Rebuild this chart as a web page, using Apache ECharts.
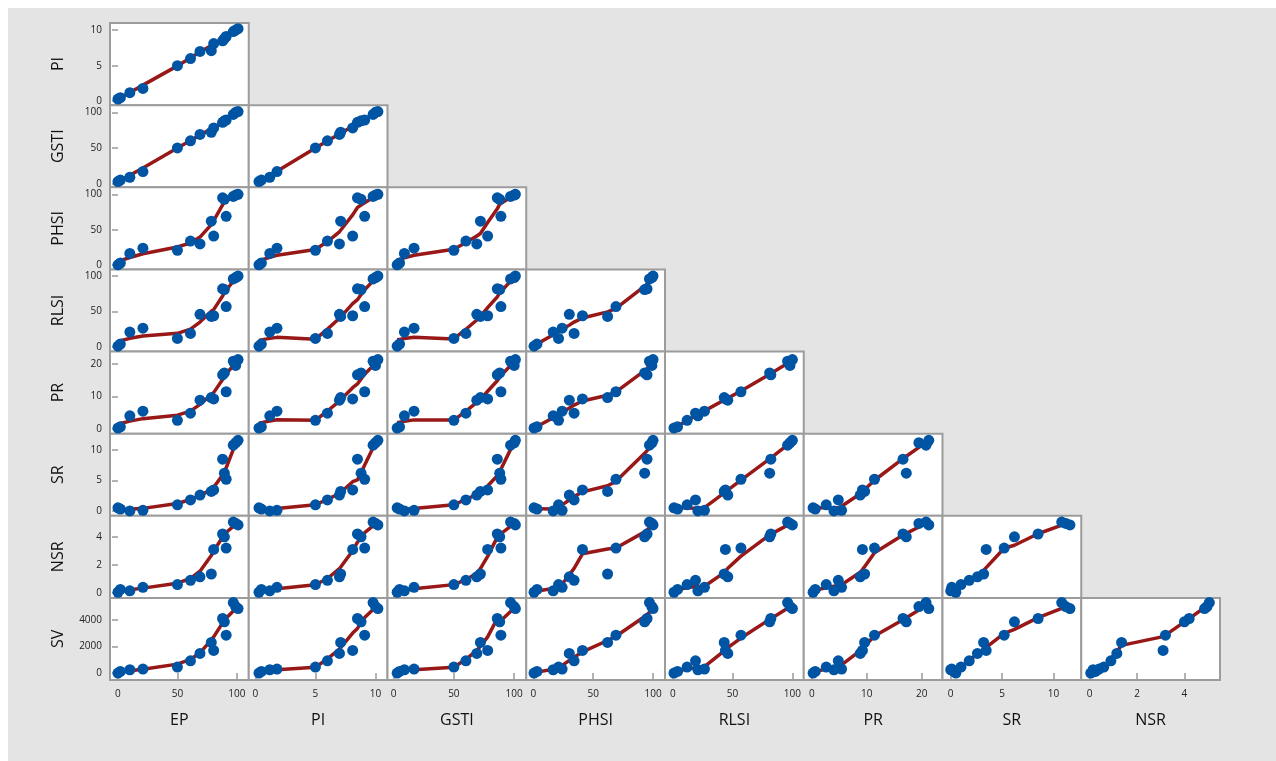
<!DOCTYPE html>
<html>
<head>
<meta charset="utf-8">
<script src="https://cdn.jsdelivr.net/npm/echarts@6/dist/echarts.min.js"></script>
<style>
html,body{margin:0;padding:0;background:#ffffff;}
#chart{width:1276px;height:761px;}
</style>
</head>
<body>
<div id="chart"></div>
<script>
// ---- data (15 observations) ----
const VARS = ['EP','PI','GSTI','PHSI','RLSI','PR','SR','NSR','SV'];
const EP   = [0, 2, 10, 21, 50, 61, 69, 78.5, 80.5, 88, 89.5, 91, 97, 99, 101];
const PI   = [0.3, 0.5, 1.2, 1.8, 5.0, 6.0, 7.0, 7.1, 8.1, 8.5, 8.8, 9.1, 9.8, 10.0, 10.2];
const GSTI = [3, 5, 9, 17, 50, 60, 69, 72, 78, 86, 88, 89, 97, 100, 101];
const PHSI = [0.5, 3, 16.5, 24, 21, 34, 30, 62, 41, 95, 93, 69, 97, 99, 100];
const RLSI = [1, 4, 21, 26.5, 12, 19, 46, 43, 44, 82, 81, 57, 96, 98, 100];
const PR   = [0.2, 0.6, 4.0, 5.4, 2.6, 4.8, 8.8, 9.6, 9.2, 16.6, 17.2, 11.4, 20.8, 19.5, 21.3];
const SR   = [0.5, 0.3, 0, 0.1, 1.0, 1.8, 2.6, 3.2, 3.45, 8.5, 6.2, 5.2, 10.8, 11.2, 11.6];
const NSR  = [0.05, 0.25, 0.15, 0.4, 0.6, 0.9, 1.15, 1.35, 3.1, 4.2, 4.0, 3.2, 5.05, 4.95, 4.85];
const SV   = [0, 120, 250, 300, 450, 920, 1480, 2300, 1700, 4100, 3850, 2850, 5300, 5000, 4850];
const TICKS = {
  EP: [0, 50, 100], PI: [0, 5, 10], GSTI: [0, 50, 100], PHSI: [0, 50, 100],
  RLSI: [0, 50, 100], PR: [0, 10, 20], SR: [0, 5, 10], NSR: [0, 2, 4], SV: [0, 2000, 4000]
};
const DATA = {EP, PI, GSTI, PHSI, RLSI, PR, SR, NSR, SV};

// axis display ranges
const RANGE = {
  EP: [-6.7, 110], PI: [-0.55, 11.0], GSTI: [-5, 110], PHSI: [-6, 110],
  RLSI: [-6.5, 109.5], PR: [-1.5, 23.8], SR: [-0.8, 12.7], NSR: [-0.35, 5.5], SV: [-520, 5650]
};

// ---- LOWESS smoother (Cleveland, as in R's clowess) ----
function lowest(x, y, n, xs, nleft, nright, w, userw, rw) {
  const range = x[n - 1] - x[0];
  const h = Math.max(xs - x[nleft], x[nright] - xs);
  const h9 = 0.999 * h, h1 = 0.001 * h;
  let a = 0, j = nleft;
  while (j < n) {
    w[j] = 0;
    const r = Math.abs(x[j] - xs);
    if (r <= h9) {
      if (r <= h1) w[j] = 1; else w[j] = Math.pow(1 - Math.pow(r / h, 3), 3);
      if (userw) w[j] *= rw[j];
      a += w[j];
    } else if (x[j] > xs) break;
    j++;
  }
  const nrt = j - 1;
  if (a <= 0) return null;
  for (j = nleft; j <= nrt; j++) w[j] /= a;
  if (h > 0) {
    a = 0;
    for (j = nleft; j <= nrt; j++) a += w[j] * x[j];
    let b = xs - a, c = 0;
    for (j = nleft; j <= nrt; j++) c += w[j] * (x[j] - a) * (x[j] - a);
    if (Math.sqrt(c) > 0.001 * range) {
      b /= c;
      for (j = nleft; j <= nrt; j++) w[j] *= (b * (x[j] - a) + 1);
    }
  }
  let ys = 0;
  for (j = nleft; j <= nrt; j++) ys += w[j] * y[j];
  return ys;
}
function lowess(xIn, yIn, f, nsteps) {
  const idx = xIn.map((v, i) => i).sort((a, b) => xIn[a] - xIn[b]);
  const x = idx.map(i => xIn[i]), y = idx.map(i => yIn[i]);
  const n = x.length;
  const ns = Math.max(Math.min(Math.floor(f * n + 1e-7), n), 2);
  const ys = new Array(n).fill(0), rw = new Array(n).fill(1), w = new Array(n).fill(0);
  for (let iter = 1; iter <= nsteps + 1; iter++) {
    let nleft = 0, nright = ns - 1;
    for (let i = 0; i < n; i++) {
      while (nright < n - 1) {
        const d1 = x[i] - x[nleft], d2 = x[nright + 1] - x[i];
        if (d1 <= d2) break;
        nleft++; nright++;
      }
      const v = lowest(x, y, n, x[i], nleft, nright, w, iter > 1, rw);
      ys[i] = (v === null) ? y[i] : v;
    }
    if (iter > nsteps) break;
    const res = y.map((v, i) => v - ys[i]);
    const ar = res.map(Math.abs).sort((a, b) => a - b);
    const m = n % 2 ? ar[(n - 1) / 2] : (ar[n / 2 - 1] + ar[n / 2]) / 2;
    const cmad = 6 * m;
    if (cmad < 1e-7) break;
    const c9 = 0.999 * cmad, c1 = 0.001 * cmad;
    for (let i = 0; i < n; i++) {
      const r = Math.abs(res[i]);
      rw[i] = r <= c1 ? 1 : (r <= c9 ? Math.pow(1 - Math.pow(r / cmad, 2), 2) : 0);
    }
  }
  return x.map((v, i) => [v, ys[i]]);
}

// ---- layout ----
const LEFT = 110, TOP = 23, CW = 138.75, CH = 82.125;
const FONT = "'Open Sans', 'Noto Sans', sans-serif";
const plain = v => String(v);
const grids = [], xAxes = [], yAxes = [], series = [];
let k = 0;
for (let r = 0; r < 8; r++) {
  const yv = VARS[r + 1];
  for (let c = 0; c <= r; c++) {
    const xv = VARS[c];
    grids.push({
      left: LEFT + c * CW, top: TOP + r * CH, width: CW, height: CH,
      show: true, backgroundColor: '#ffffff', borderColor: '#9c9c9c', borderWidth: 2
    });
    const bottom = (r === 7), leftCol = (c === 0);
    xAxes.push({
      gridIndex: k, type: 'value', min: RANGE[xv][0], max: RANGE[xv][1],
      axisLine: {show: false}, splitLine: {show: false},
      axisTick: {show: bottom, customValues: TICKS[xv], length: 6, lineStyle: {color: '#9a9a9a', width: 1.5}},
      axisLabel: {show: bottom, customValues: TICKS[xv], formatter: plain, fontSize: 10, color: '#222', margin: 9, fontFamily: FONT},
      name: bottom ? xv : '', nameLocation: 'middle', nameGap: 32,
      nameTextStyle: {fontSize: 16, color: '#111', fontFamily: FONT}
    });
    yAxes.push({
      gridIndex: k, type: 'value', min: RANGE[yv][0], max: RANGE[yv][1],
      axisLine: {show: false}, splitLine: {show: false},
      axisTick: {show: leftCol, customValues: TICKS[yv], length: 6, lineStyle: {color: '#9a9a9a', width: 1.5}},
      axisLabel: {show: leftCol, customValues: TICKS[yv], formatter: plain, fontSize: 10, color: '#222', margin: 8, fontFamily: FONT},
      name: leftCol ? yv : '', nameLocation: 'middle', nameGap: 44, nameRotate: 90,
      nameTextStyle: {fontSize: 16, color: '#111', fontFamily: FONT}
    });
    const xs = DATA[xv], ysArr = DATA[yv];
    series.push({
      type: 'line', xAxisIndex: k, yAxisIndex: k, data: lowess(xs, ysArr, 0.5, 2),
      showSymbol: false, symbol: 'none', silent: true, z: 2,
      lineStyle: {color: '#981717', width: 3.5}
    });
    series.push({
      type: 'scatter', xAxisIndex: k, yAxisIndex: k, data: xs.map((v, i) => [v, ysArr[i]]),
      symbolSize: 11, z: 3, itemStyle: {color: '#0054a4', opacity: 1}
    });
    k++;
  }
}

const chart = echarts.init(document.getElementById('chart'), null, {renderer: 'canvas'});
chart.setOption({
  animation: false,
  backgroundColor: '#ffffff',
  graphic: [{type: 'rect', left: 8, top: 8, shape: {width: 1268, height: 753}, style: {fill: '#e4e4e4'}, z: -10}],
  grid: grids, xAxis: xAxes, yAxis: yAxes, series: series
});
</script>
</body>
</html>
